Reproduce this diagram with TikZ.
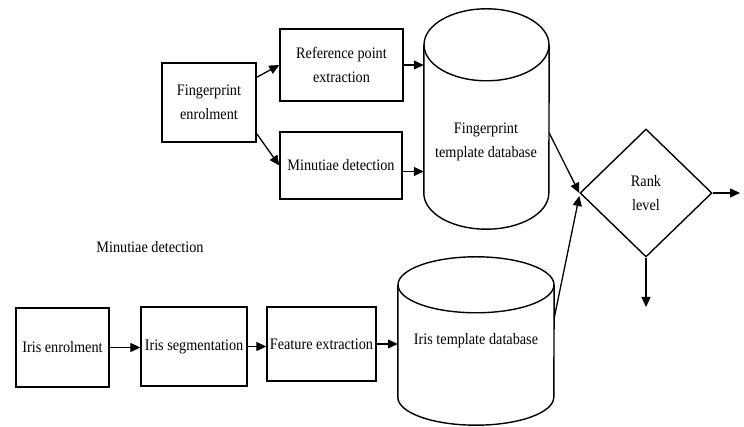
\documentclass[tikz,border=0pt]{standalone}
\usepackage{fontspec}
\setmainfont{Liberation Serif}[FakeStretch=0.89]
\usetikzlibrary{positioning, arrows.meta, shapes.geometric}

\begin{document}
\begin{tikzpicture}[x=1pt, y=1pt,
  font=\fontsize{16}{24}\selectfont,
  box/.style={draw, line width=1.4pt, align=center, inner sep=1pt},
  arr/.style={line width=1.3pt, -{Triangle[length=10pt, width=9pt]}}]

  % Frame
  \useasboundingbox (0,0) rectangle (744,427);

  % Fingerprint branch
  \node[box, minimum width=94pt, minimum height=79pt] (fpen) at (209,324.5) {Fingerprint\\enrolment};
  \node[box, minimum width=123pt, minimum height=72pt] (refpt) at (341.5,362) {Reference point\\extraction};
  \node[box, minimum width=122pt, minimum height=67pt] (minut) at (341,261.5) {Minutiae detection};

  % Fingerprint database (cylinder)
  \node[inner sep=0pt, minimum width=125pt, minimum height=148pt] (fpdb) at (486.5,308) {};
  \draw[line width=1.4pt] (fpdb.north west) -- (fpdb.south west)
    arc[start angle=180, end angle=360, x radius=62.5, y radius=36] -- (fpdb.north east);
  \draw[line width=1.4pt] (fpdb.north) ellipse[x radius=62.5, y radius=36];
  \node[align=center] (fpdbtext) at (486,285) {Fingerprint\\template database};

  % Decision
  \node[draw, shape=diamond, line width=1.4pt, inner sep=0pt, align=center,
        minimum width=132pt, minimum height=128pt] (rank) at (646,234) {Rank\\level};
  \coordinate (outr) at (740,234);
  \coordinate (outd) at (646,120);

  % Stray caption
  \node (minlabel) at (150,180) {Minutiae detection};

  % Iris branch
  \node[box, minimum width=93pt, minimum height=79pt] (irisen) at (62.5,79.5) {Iris enrolment};
  \node[box, minimum width=106pt, minimum height=79pt] (irisseg) at (194,80.5) {Iris segmentation};
  \node[box, minimum width=109pt, minimum height=74pt] (feat) at (321.5,83) {Feature extraction};

  % Iris database (cylinder)
  \node[inner sep=0pt, minimum width=156pt, minimum height=112pt] (irisdb) at (476,86) {Iris template database};
  \draw[line width=1.4pt] (irisdb.north west) -- (irisdb.south west)
    arc[start angle=180, end angle=360, x radius=78, y radius=28] -- (irisdb.north east);
  \draw[line width=1.4pt] (irisdb.north) ellipse[x radius=78, y radius=28];

  % Arrows
  \draw[arr] ([yshift=-15pt]fpen.north east) -- (refpt.west);
  \draw[arr] ([yshift=9pt]fpen.south east) -- (minut.west);
  \draw[arr] (refpt.east) -- (refpt.east -| fpdb.west);
  \draw[arr] ([yshift=-6pt]minut.east) -- ([yshift=-6pt]minut.east -| fpdb.west);
  \draw[arr] ([yshift=-14pt]fpdb.east) -- (rank.west);
  \draw[arr] ([yshift=23pt]irisdb.east) -- ([yshift=-3pt]rank.west);
  \draw[arr] (rank.east) -- (outr);
  \draw[arr] (rank.south) -- (outd);
  \draw[arr] (irisen.east) -- (irisen.east -| irisseg.west);
  \draw[arr] (irisseg.east) -- (irisseg.east -| feat.west);
  \draw[arr] (feat.east) -- (feat.east -| irisdb.west);

\end{tikzpicture}
\end{document}
